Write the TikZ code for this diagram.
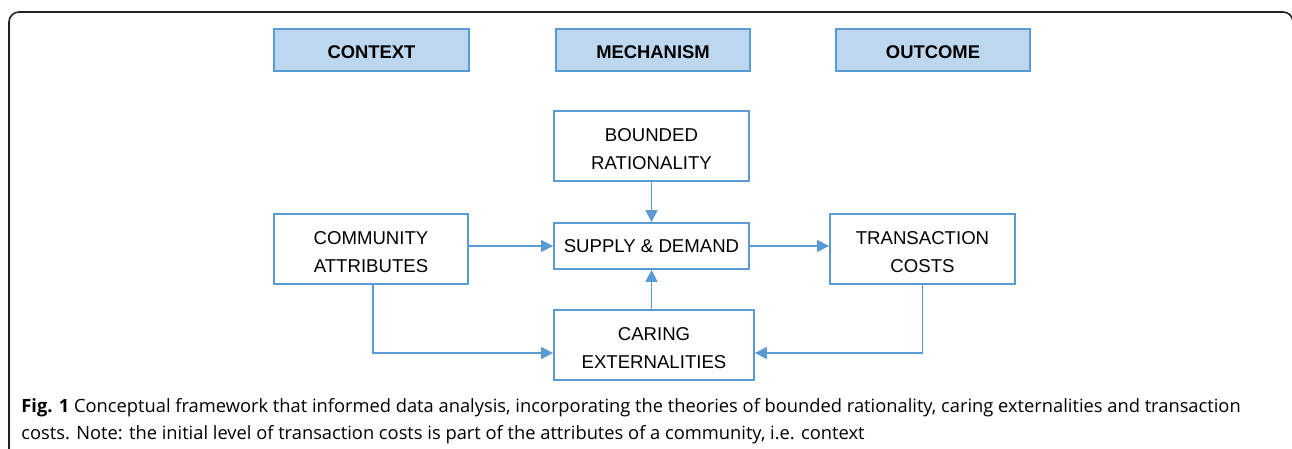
\documentclass[tikz,border=0pt]{standalone}
\usepackage{fontspec}
\setmainfont{Liberation Sans}
\newfontfamily\capfont{Open Sans}
\usetikzlibrary{arrows.meta}
\definecolor{lineblue}{HTML}{5B9BD5}
\definecolor{fillblue}{HTML}{BDD7EE}
\definecolor{frame}{HTML}{222222}
\newcommand{\topstrut}{\rule{0pt}{9.8pt}}
\begin{document}
\begin{tikzpicture}[x=0.5pt,y=-0.5pt,
  boxstyle/.style={draw=lineblue,line width=0.9pt,fill=white,inner sep=0pt,align=center,font=\fontsize{9.3}{14.2}\selectfont},
  headstyle/.style={draw=lineblue,line width=0.9pt,fill=fillblue,inner sep=0pt,align=center,text height=8.6pt,text depth=0pt,font=\fontsize{9.2}{11}\selectfont\bfseries},
  conn/.style={draw=lineblue,line width=0.7pt,-{Triangle[length=6pt,width=6pt]}},
  capstyle/.style={anchor=base west,inner sep=0pt,font=\capfont\fontsize{9.15}{10}\selectfont}]
\useasboundingbox (0,0) rectangle (1292,449);
% frame
\draw[frame,line width=0.8pt,rounded corners=5pt] (9,460) -- (9,12) -- (1293,12) -- (1293,460);
% header boxes
\node[headstyle,minimum width=97.5pt,minimum height=21pt] (ctx) at (371.5,50) {CONTEXT};
\node[headstyle,minimum width=97pt,minimum height=21pt] (mech) at (653,50) {MECHANISM};
\node[headstyle,minimum width=97pt,minimum height=21pt] (out) at (933,50) {OUTCOME};
% content boxes
\node[boxstyle,minimum width=97.5pt,minimum height=35pt] (br) at (651.5,146) {\topstrut BOUNDED\\RATIONALITY};
\node[boxstyle,minimum width=97.5pt,minimum height=23pt] (sd) at (651.5,246) {SUPPLY \& DEMAND};
\node[boxstyle,minimum width=97pt,minimum height=35pt] (ca) at (371,249) {\topstrut COMMUNITY\\ATTRIBUTES};
\node[boxstyle,minimum width=100pt,minimum height=35pt] (ce) at (654,345) {\topstrut CARING\\EXTERNALITIES};
\node[boxstyle,minimum width=92.5pt,minimum height=35pt] (tc) at (922.5,249) {\topstrut TRANSACTION\\COSTS};
% connectors
\draw[conn] (br.south -| sd.north) -- (sd.north);
\draw[conn] (ce.north -| sd.south) -- (sd.south);
\draw[conn] (ca.east |- sd.west) -- (sd.west);
\draw[conn] (sd.east) -- (tc.west |- sd.east);
\coordinate (cabend) at (373,353);
\coordinate (tcbend) at (922.5,353);
\draw[conn] (ca.south -| cabend) -- (cabend) -- (ce.west |- cabend);
\draw[conn] (tc.south -| tcbend) -- (tcbend) -- (ce.east |- tcbend);
% caption
\node[capstyle] (cap1) at (21,412) {{\bfseries Fig. 1} Conceptual framework that informed data analysis, incorporating the theories of bounded rationality, caring externalities and transaction};
\node[capstyle] (cap2) at (21,439) {costs. Note: the initial level of transaction costs is part of the attributes of a community, i.e. context};
\end{tikzpicture}
\end{document}
